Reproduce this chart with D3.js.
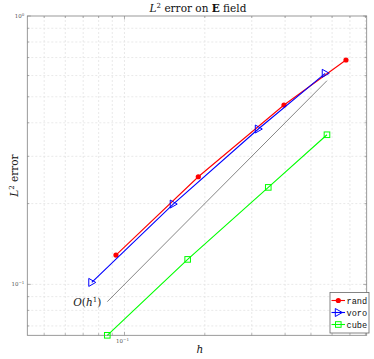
<!DOCTYPE html>
<html>
<head>
<meta charset="utf-8">
<script src="https://cdn.jsdelivr.net/npm/d3@7"></script>
<style>
  body { margin: 0; background: #fff; }
  svg { display: block; }
  .serif { font-family: "DejaVu Serif", "Liberation Serif", serif; }
</style>
</head>
<body>
<div id="chart"></div>
<script>
// mesh size h and L2 error per mesh type
const randH = [0.0929, 0.1891, 0.3962, 0.6764];
const randErr = [0.1286, 0.2518, 0.4659, 0.6855];
const voroH = [0.0754, 0.1523, 0.3174, 0.5656];
const voroErr = [0.1017, 0.1992, 0.3792, 0.6116];
const cubeH = [0.0862, 0.1725, 0.3459, 0.5741];
const cubeErr = [0.0646, 0.1239, 0.2298, 0.3610];
// O(h^1) guide line
const refH = [0.0862, 0.5741];
const refErr = [0.0862, 0.5741];

const seriesNames = ['rand', 'voro', 'cube'];
const colors = ['#ff0000', '#0000ff', '#00ff00'];

(function() {
const W = 374, H = 359;
const pL = 27.3, pR = 366.7, pT = 16, pB = 335.3;

const svg = d3.select('#chart').append('svg')
    .attr('width', W)
    .attr('height', H);

const x = d3.scaleLog().domain([0.04322, 0.8089]).range([pL, pR]);
const y = d3.scaleLog().domain([0.0646, 1]).range([pB, pT]);

// minor/major tick values
const xTicks = d3.range(5, 10).map(d => d / 100).concat(d3.range(1, 9).map(d => d / 10));
const yTicks = d3.range(7, 10).map(d => d / 100).concat(d3.range(1, 11).map(d => d / 10));

// grid
const grid = svg.append('g');
grid.selectAll('.gx').data(xTicks).enter().append('line')
    .attr('x1', d => x(d)).attr('x2', d => x(d))
    .attr('y1', pT).attr('y2', pB)
    .attr('stroke', '#e3e3e3').attr('stroke-width', 0.8)
    .attr('stroke-dasharray', '2,2');
grid.selectAll('.gy').data(yTicks.filter(d => d < 1)).enter().append('line')
    .attr('y1', d => y(d)).attr('y2', d => y(d))
    .attr('x1', pL).attr('x2', pR)
    .attr('stroke', '#e3e3e3').attr('stroke-width', 0.8)
    .attr('stroke-dasharray', '2,2');

// axes box with inward ticks
const axisColor = '#808080';
const tickLen = d => (d === 0.1 || d === 1) ? 3.5 : 2;
const ax = svg.append('g');
ax.append('rect')
    .attr('x', pL).attr('y', pT)
    .attr('width', pR - pL).attr('height', pB - pT)
    .attr('fill', 'none').attr('stroke', axisColor).attr('stroke-width', 0.8);
xTicks.forEach(d => {
    ax.append('line').attr('x1', x(d)).attr('x2', x(d))
        .attr('y1', pB).attr('y2', pB - tickLen(d))
        .attr('stroke', axisColor).attr('stroke-width', 0.6);
    ax.append('line').attr('x1', x(d)).attr('x2', x(d))
        .attr('y1', pT).attr('y2', pT + tickLen(d))
        .attr('stroke', axisColor).attr('stroke-width', 0.6);
});
yTicks.forEach(d => {
    ax.append('line').attr('y1', y(d)).attr('y2', y(d))
        .attr('x1', pL).attr('x2', pL + tickLen(d))
        .attr('stroke', axisColor).attr('stroke-width', 0.6);
    ax.append('line').attr('y1', y(d)).attr('y2', y(d))
        .attr('x1', pR).attr('x2', pR - tickLen(d))
        .attr('stroke', axisColor).attr('stroke-width', 0.6);
});

// tick labels
function powLabel(px, py, exp, anchor) {
    const t = svg.append('text')
        .attr('x', px).attr('y', py)
        .attr('text-anchor', anchor)
        .attr('fill', '#555')
        .attr('font-family', 'DejaVu Serif, serif')
        .attr('font-size', 5.5);
    t.append('tspan').text('10');
    t.append('tspan').attr('dy', -2.5).attr('font-size', 4).text(exp);
}
powLabel(pL - 3, y(1) + 2, '0', 'end');
powLabel(pL - 3, y(0.1) + 2, '\u22121', 'end');
powLabel(x(0.1) - 2, pB + 8, '\u22121', 'middle');

// reference line O(h)
const line = d3.line().x(d => x(d[0])).y(d => y(d[1]));
svg.append('path')
    .attr('d', line(refH.map((h, i) => [h, refErr[i]])))
    .attr('fill', 'none').attr('stroke', '#505050').attr('stroke-width', 0.7);

const lbl = svg.append('text')
    .attr('class', 'serif')
    .attr('x', x(refH[0]) - 6).attr('y', y(refErr[0]) + 4)
    .attr('text-anchor', 'end')
    .attr('font-size', 10.5).attr('fill', '#222');
lbl.append('tspan').attr('font-style', 'italic').text('O');
lbl.append('tspan').text('(');
lbl.append('tspan').attr('font-style', 'italic').text('h');
lbl.append('tspan').attr('dy', -4).attr('font-size', 7).text('1');
lbl.append('tspan').attr('dy', 4).text(')');

// markers
function marker(g, i, px, py) {
    if (i === 0) {
        g.append('circle').attr('cx', px).attr('cy', py).attr('r', 2.6)
            .attr('fill', colors[0]);
    } else if (i === 1) {
        g.append('path')
            .attr('d', `M${px - 3},${py - 4}L${px + 4},${py}L${px - 3},${py + 4}Z`)
            .attr('fill', 'none').attr('stroke', colors[1]).attr('stroke-width', 1);
    } else {
        g.append('rect').attr('x', px - 2.8).attr('y', py - 2.8)
            .attr('width', 5.6).attr('height', 5.6)
            .attr('fill', 'none').attr('stroke', colors[2]).attr('stroke-width', 1);
    }
}

const allH = [randH, voroH, cubeH];
const allErr = [randErr, voroErr, cubeErr];
allH.forEach((hs, i) => {
    const pts = hs.map((h, j) => [h, allErr[i][j]]);
    const g = svg.append('g');
    g.append('path').attr('d', line(pts))
        .attr('fill', 'none').attr('stroke', colors[i]).attr('stroke-width', 1.1);
    pts.forEach(p => marker(g, i, x(p[0]), y(p[1])));
});

// title and axis labels
const title = svg.append('text').attr('class', 'serif')
    .attr('x', 198).attr('y', 12).attr('text-anchor', 'middle')
    .attr('font-size', 10.5).attr('fill', '#111');
title.append('tspan').attr('font-style', 'italic').text('L');
title.append('tspan').attr('dy', -4).attr('font-size', 7).text('2');
title.append('tspan').attr('dy', 4).text(' error on ');
title.append('tspan').attr('font-weight', 'bold').text('E');
title.append('tspan').text(' field');

svg.append('text').attr('class', 'serif')
    .attr('x', 200).attr('y', 353).attr('text-anchor', 'middle')
    .attr('font-size', 10.5).attr('font-style', 'italic').attr('fill', '#111')
    .text('h');

const yl = svg.append('text').attr('class', 'serif')
    .attr('transform', `translate(18,${(pT + pB) / 2}) rotate(-90)`)
    .attr('text-anchor', 'middle')
    .attr('font-size', 10.5).attr('fill', '#111');
yl.append('tspan').attr('font-style', 'italic').text('L');
yl.append('tspan').attr('dy', -4).attr('font-size', 7).text('2');
yl.append('tspan').attr('dy', 4).text(' error');

// legend
const lg = svg.append('g');
lg.append('rect')
    .attr('x', 330).attr('y', 292.5).attr('width', 39).attr('height', 40.5)
    .attr('fill', '#fff').attr('stroke', '#666').attr('stroke-width', 0.8);
seriesNames.forEach((name, i) => {
    const ly = 300.5 + i * 12;
    lg.append('line').attr('x1', 331.5).attr('x2', 345)
        .attr('y1', ly).attr('y2', ly)
        .attr('stroke', colors[i]).attr('stroke-width', 1.1);
    marker(lg, i, 338.3, ly);
    lg.append('text')
        .attr('x', 346.5).attr('y', ly + 3)
        .attr('font-family', 'Liberation Mono, DejaVu Sans Mono, monospace')
        .attr('font-size', 8.6).attr('fill', '#111')
        .text(name);
});
})();
</script>
</body>
</html>
